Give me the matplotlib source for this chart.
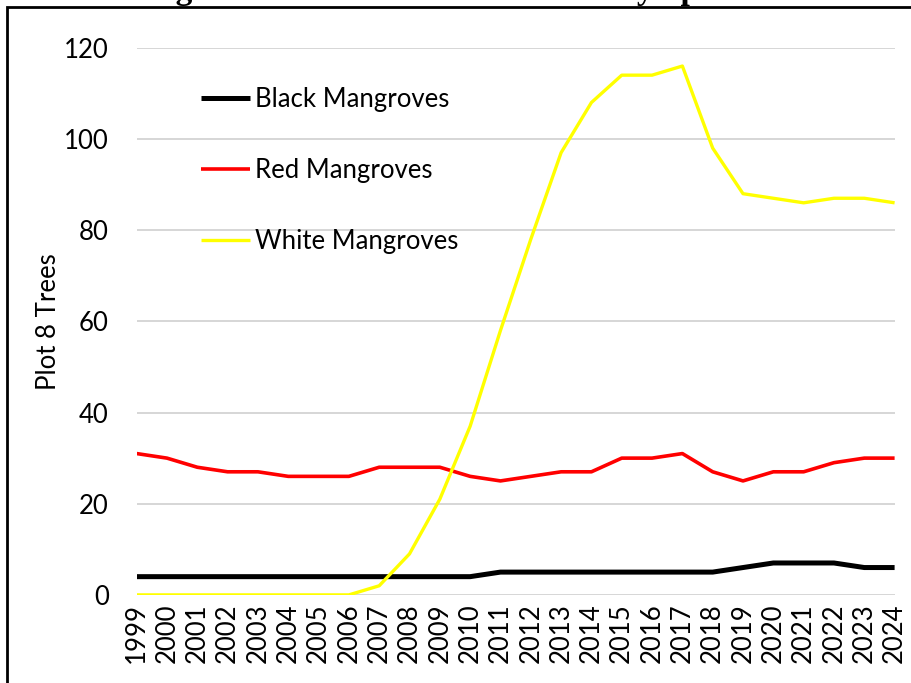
import matplotlib
matplotlib.use("Agg")
import matplotlib.pyplot as plt
from matplotlib.patches import Rectangle

years = list(range(1999, 2025))
black = [4, 4, 4, 4, 4, 4, 4, 4, 4, 4, 4, 4, 5, 5, 5, 5, 5, 5, 5, 5, 6, 7, 7, 7, 6, 6]
red = [31, 30, 28, 27, 27, 26, 26, 26, 28, 28, 28, 26, 25, 26, 27, 27, 30, 30, 31, 27, 25, 27, 27, 29, 30, 30]
white = [0, 0, 0, 0, 0, 0, 0, 0, 2, 9, 21, 37, 58, 78, 97, 108, 114, 114, 116, 98, 88, 87, 86, 87, 87, 86]

series = [
    ("Black Mangroves", black, "#000000", 3.6),
    ("Red Mangroves", red, "#ff0000", 2.6),
    ("White Mangroves", white, "#ffff00", 2.4),
]

FONT = "Lato"
FS = 18.5

fig = plt.figure(figsize=(9.11, 6.83), dpi=100)
ax = fig.add_axes([0.150, 0.129, 0.832, 0.801])

for label, vals, color, lw in series:
    ax.plot(years, vals, color=color, lw=lw, label=label, solid_capstyle="butt")

ax.set_xlim(1999, 2024)
ax.set_ylim(0, 120)
ax.set_yticks(range(0, 121, 20))
ax.set_xticks(years)
ax.set_xticklabels([str(y) for y in years], rotation=90, fontsize=FS, family=FONT)
for t in ax.get_yticklabels():
    t.set_fontsize(FS)
    t.set_family(FONT)
ax.tick_params(length=0)
ax.tick_params(axis="y", pad=20)
ax.tick_params(axis="x", pad=6)
ax.grid(axis="y", color="#d0d0d0", lw=1.2)
ax.set_axisbelow(True)
for s in ax.spines.values():
    s.set_visible(False)

ax.set_ylabel("Plot 8 Trees", fontsize=FS, family=FONT, labelpad=2)

leg = ax.legend(loc="upper left", bbox_to_anchor=(0.055, 0.97), frameon=False,
                prop={"family": FONT, "size": FS}, handlelength=1.9,
                handletextpad=0.2, labelspacing=1.78)

# outer frame and clipped title, as in the source figure
fig.patches.append(Rectangle((7 / 911, -0.05), 1.1, 1 - 6.5 / 683 + 0.05,
                             transform=fig.transFigure, fill=False,
                             edgecolor="black", lw=2))
fig.text(0.5, 1 + 0.5 / 683, "Figure 4. Plot 8 Trees Over Time by Species",
         ha="center", va="baseline", family="Liberation Serif",
         weight="bold", fontsize=24)

fig.savefig("out.png", dpi=100)
